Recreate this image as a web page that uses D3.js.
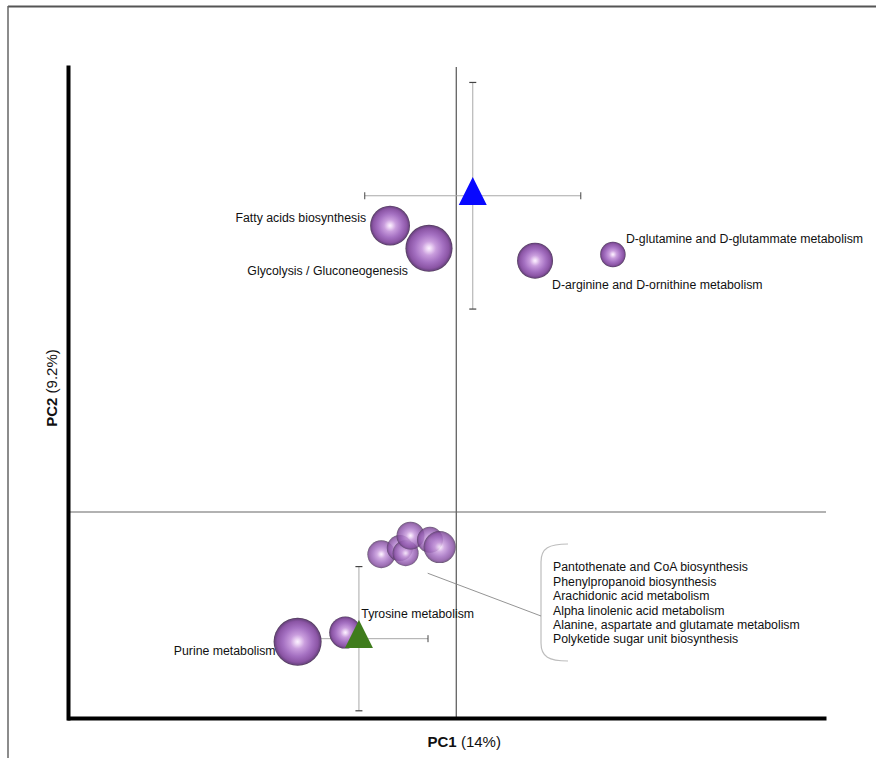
<!DOCTYPE html>
<html>
<head>
<meta charset="utf-8">
<script src="https://cdn.jsdelivr.net/npm/d3@7"></script>
<style>
  html, body { margin: 0; padding: 0; background: #fff; }
  svg { display: block; }
  text { font-family: "Liberation Sans", Arial, sans-serif; fill: #111; }
</style>
</head>
<body>
<svg id="chart" width="876" height="758"></svg>
<script>
// Pathway scores on the first two principal components
const pathways = [
  "Fatty acids biosynthesis",
  "Glycolysis / Gluconeogenesis",
  "D-arginine and D-ornithine metabolism",
  "D-glutamine and D-glutammate metabolism",
  "Purine metabolism",
  "Tyrosine metabolism",
  "Pantothenate and CoA biosynthesis",
  "Phenylpropanoid biosynthesis",
  "Arachidonic acid metabolism",
  "Alpha linolenic acid metabolism",
  "Alanine, aspartate and glutamate metabolism",
  "Polyketide sugar unit biosynthesis"
];
const pc1 = [-0.068, -0.028, 0.081, 0.161, -0.163, -0.114, -0.077, -0.058, -0.052, -0.047, -0.027, -0.017];
const pc2 = [0.278, 0.256, 0.244, 0.250, -0.126, -0.117, -0.041, -0.035, -0.040, -0.023, -0.027, -0.034];
const impact = [0.83, 0.98, 0.75, 0.53, 1.00, 0.67, 0.58, 0.54, 0.54, 0.58, 0.54, 0.67];

// Group centroids with error bars
const groupNames = ["Group A", "Group B"];
const groupPc1 = [0.017, -0.100];
const groupPc2 = [0.307, -0.123];
const groupErr1 = [0.111, 0.071];
const groupErr2 = [0.110, 0.070];
const groupColors = ["#0808ff", "#3f7c1c"];

// Pathways listed next to the bracket (the overlapping cluster)
const clusterNames = pathways.slice(6);

const axisTitleX = ["PC1", " (14%)"];
const axisTitleY = ["PC2", " (9.2%)"];

const svg = d3.select("#chart");

// outer frame (top and left edges)
svg.append("line").attr("x1", 8).attr("y1", 6.5).attr("x2", 876).attr("y2", 6.5)
  .attr("stroke", "#555").attr("stroke-width", 2);
svg.append("line").attr("x1", 8).attr("y1", 6).attr("x2", 8).attr("y2", 758)
  .attr("stroke", "#666").attr("stroke-width", 1.5);

const plot = { left: 67, right: 826, top: 67, bottom: 718 };
const x = d3.scaleLinear().domain([-0.40, 0.38]).range([plot.left, plot.right]);
const y = d3.scaleLinear().domain([-0.20, 0.432]).range([plot.bottom, plot.top]);
const r = d3.scaleLinear().domain([0, 1]).range([0, 24]);

// sphere shading
const defs = svg.append("defs");
const grad = defs.append("radialGradient").attr("id", "sphere")
  .attr("cx", "50%").attr("cy", "50%").attr("r", "50%");
[[0, "#fcf2ff"], [0.1, "#efd9f6"], [0.3, "#c99ddd"], [0.6, "#a571c2"], [0.85, "#8b55a5"], [0.95, "#6c4582"], [1, "#4b3a52"]]
  .forEach(([o, c]) => grad.append("stop").attr("offset", o).attr("stop-color", c));

// crosshair through the origin
svg.append("line").attr("x1", x(0)).attr("x2", x(0)).attr("y1", plot.top).attr("y2", plot.bottom)
  .attr("stroke", "#333").attr("stroke-width", 1);
svg.append("line").attr("x1", plot.left).attr("x2", plot.right).attr("y1", y(0)).attr("y2", y(0))
  .attr("stroke", "#666").attr("stroke-width", 1.2);

// axes: heavy domain lines, no ticks
const gx = svg.append("g").attr("transform", `translate(0,${plot.bottom})`)
  .call(d3.axisBottom(x).tickValues([]).tickSizeOuter(0));
const gy = svg.append("g").attr("transform", `translate(${plot.left + 1},0)`)
  .call(d3.axisLeft(y).tickValues([]).tickSizeOuter(0));
gx.select(".domain").attr("stroke", "#000").attr("stroke-width", 4).attr("stroke-linecap", "butt");
gy.select(".domain").attr("stroke", "#000").attr("stroke-width", 4).attr("stroke-linecap", "square");

// error bars
const groups = groupNames.map((n, i) => ({
  name: n, x: groupPc1[i], y: groupPc2[i], ex: groupErr1[i], ey: groupErr2[i], color: groupColors[i]
}));
const eb = svg.append("g");
groups.forEach(g => {
  eb.append("line").attr("x1", x(g.x - g.ex)).attr("x2", x(g.x + g.ex)).attr("y1", y(g.y)).attr("y2", y(g.y))
    .attr("stroke", "#a8a8a8").attr("stroke-width", 1);
  eb.append("line").attr("x1", x(g.x)).attr("x2", x(g.x)).attr("y1", y(g.y + g.ey)).attr("y2", y(g.y - g.ey))
    .attr("stroke", "#a8a8a8").attr("stroke-width", 1);
  [g.x - g.ex, g.x + g.ex].forEach(v => eb.append("line")
    .attr("x1", x(v)).attr("x2", x(v)).attr("y1", y(g.y) - 3.5).attr("y2", y(g.y) + 3.5)
    .attr("stroke", "#444").attr("stroke-width", 1));
  [g.y - g.ey, g.y + g.ey].forEach(v => eb.append("line")
    .attr("x1", x(g.x) - 3.5).attr("x2", x(g.x) + 3.5).attr("y1", y(v)).attr("y2", y(v))
    .attr("stroke", "#444").attr("stroke-width", 1.2));
});

// pathway spheres
const nodes = pathways.map((p, i) => ({ name: p, x: pc1[i], y: pc2[i], s: impact[i], i }));
svg.append("g").selectAll("circle").data(nodes).join("circle")
  .attr("cx", d => x(d.x)).attr("cy", d => y(d.y)).attr("r", d => r(d.s))
  .attr("fill", "url(#sphere)")
  .attr("opacity", d => d.i >= 6 ? 0.85 : 1);

// group centroid triangles (centroid sits on the data point)
const tri = (w, h) => `M0,${-2 * h / 3}L${w / 2},${h / 3}L${-w / 2},${h / 3}Z`;
svg.append("g").selectAll("path").data(groups).join("path")
  .attr("transform", d => `translate(${x(d.x)},${y(d.y)})`)
  .attr("d", tri(28, 28)).attr("fill", d => d.color);

// pathway labels
const labelPlacement = {
  "Fatty acids biosynthesis": { dx: -24, dy: -8, anchor: "end" },
  "Glycolysis / Gluconeogenesis": { dx: -21, dy: 22, anchor: "end" },
  "D-arginine and D-ornithine metabolism": { dx: 17, dy: 24, anchor: "start" },
  "D-glutamine and D-glutammate metabolism": { dx: 13, dy: -16, anchor: "start" },
  "Purine metabolism": { dx: -22, dy: 9, anchor: "end" },
  "Tyrosine metabolism": { dx: 16, dy: -19, anchor: "start" }
};
svg.append("g").selectAll("text").data(nodes.filter(d => labelPlacement[d.name])).join("text")
  .attr("x", d => x(d.x) + labelPlacement[d.name].dx)
  .attr("y", d => y(d.y) + labelPlacement[d.name].dy)
  .attr("dy", "0.35em")
  .attr("text-anchor", d => labelPlacement[d.name].anchor)
  .attr("font-size", 12.3)
  .text(d => d.name);

// bracket listing the clustered pathways
const listX = 553, listY = 567, lineH = 14.4;
const list = svg.append("g");
list.selectAll("text").data(clusterNames).join("text")
  .attr("x", listX).attr("y", (d, i) => listY + i * lineH)
  .attr("dy", "0.35em").attr("font-size", 12.3).text(d => d);
const bTop = listY - 23, bBot = listY + (clusterNames.length - 1) * lineH + 22, bx = listX - 12;
list.append("path")
  .attr("d", `M${bx + 27},${bTop} C${bx + 8},${bTop} ${bx},${bTop + 4} ${bx},${bTop + 18}
              L${bx},${bBot - 18} C${bx},${bBot - 4} ${bx + 8},${bBot} ${bx + 27},${bBot}`)
  .attr("fill", "none").attr("stroke", "#bdbdbd").attr("stroke-width", 1.2);
const cluster = nodes.filter(d => d.i >= 6);
const cx0 = x(d3.max(cluster, d => d.x)), cy0 = y(d3.min(cluster, d => d.y));
list.append("line").attr("x1", cx0 - 12).attr("y1", cy0 + 19).attr("x2", bx).attr("y2", 616)
  .attr("stroke", "#888").attr("stroke-width", 0.9);

// axis titles
const tx = svg.append("text").attr("x", x(0) + 8).attr("y", 747).attr("text-anchor", "middle")
  .attr("font-size", 15);
tx.append("tspan").attr("font-weight", "bold").text(axisTitleX[0]);
tx.append("tspan").text(axisTitleX[1]);
const ty = svg.append("text").attr("transform", `translate(57,388) rotate(-90)`)
  .attr("text-anchor", "middle").attr("font-size", 15);
ty.append("tspan").attr("font-weight", "bold").text(axisTitleY[0]);
ty.append("tspan").text(axisTitleY[1]);
</script>
</body>
</html>
